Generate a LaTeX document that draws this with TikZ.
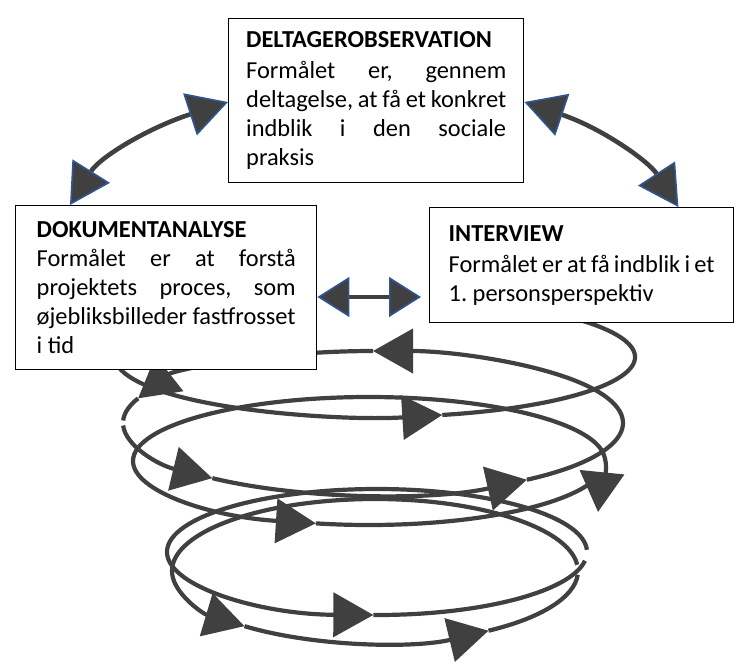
\documentclass[tikz,border=0pt]{standalone}
\usepackage{fontspec}
\setmainfont{Carlito}
\usetikzlibrary{arrows.meta}
\definecolor{spir}{HTML}{404040}
\definecolor{tipblue}{HTML}{2F5597}
\tolerance=10000
\hyphenpenalty=10000
\exhyphenpenalty=10000
\hfuzz=20pt

\begin{document}
\begin{tikzpicture}
		[x=0.5pt,y=-0.5pt,
		box/.style={draw,fill=white,line width=0.7pt,anchor=north west,align=justify,inner ysep=0pt,font=\fontsize{12.2}{14.5}\selectfont},
		helix/.style={draw=spir,line width=2.1pt},
		helixtip/.style={-{Triangle[length=20pt,width=22pt]}},
		boxlink/.style={draw=spir,line width=2.3pt,{Triangle[length=20pt,width=22pt,fill=spir,color=tipblue,line width=0.8pt]}-{Triangle[length=20pt,width=22pt,fill=spir,color=tipblue,line width=0.8pt]}},
		midlink/.style={draw=spir,line width=2.3pt,{Triangle[length=16pt,width=20pt,fill=spir,color=tipblue,line width=0.8pt]}-{Triangle[length=16pt,width=20pt,fill=spir,color=tipblue,line width=0.8pt]}}]
		\path[use as bounding box,fill=white] (0,0) rectangle (738,664);
		% helix, one ellipse per turn, tips at the arc ends
		\foreach \cx/\cy/\rx/\ry/\a/\b in {375/357/260/60/190/75, 373/423/250/72/178/130, 373/423/250/72/130/52, 373/423/250/72/52/-90, 373/423/250/72/-90/-160, 369/461/236/64/180/103, 377/552/210/63/358/91, 375/571/203/72/355/130, 375/571/203/72/130/56}
		\draw[helix,helixtip] ({\cx+\rx*cos(\a)},{\cy+\ry*sin(\a)}) arc[start angle=\a,end angle=\b,x radius=\rx,y radius=\ry];
		\foreach \cx/\cy/\rx/\ry/\a/\b in {375/357/260/60/75/-45, 373/423/250/72/-160/-178, 369/461/236/64/103/12, 377/552/210/63/91/8, 375/571/203/72/56/3}
		\draw[helix] ({\cx+\rx*cos(\a)},{\cy+\ry*sin(\a)}) arc[start angle=\a,end angle=\b,x radius=\rx,y radius=\ry];
		\draw[helix,helixtip] (133,461) arc[start angle=180,end angle=355,x radius=236,y radius=64] .. controls +(6,18) and +(2,-20) .. (598,512);
		
		\node[box,text width=130pt,inner xsep=8.75pt,minimum height=82pt] (obs) at (228,18) {\textbf{DELTAGEROBSERVATION}\\[1pt]Formålet~er,~gennem\linebreak deltagelse,~at~få~et~konkret\linebreak indblik~i~den~sociale\linebreak praksis};
		\node[box,text width=129.5pt,inner xsep=10.5pt,minimum height=82pt] (dok) at (15,205) {\textbf{DOKUMENTANALYSE}\\Formålet~er~at~forstå\linebreak projektets~proces,~som\linebreak øjebliksbilleder~fastfrosset\linebreak i tid};
		\node[box,text width=133pt,inner xsep=9.5pt,minimum height=57.5pt] (int) at (429,207) {\textbf{INTERVIEW}\\[1pt]Formålet er at få indblik i et\linebreak 1.~personsperspektiv};
		
		\draw[boxlink] ([xshift=27.5pt]dok.north west) .. controls +(30,-48) and +(-80,26) .. ([yshift=-42pt]obs.north west);
		\draw[boxlink] ([yshift=-42pt]obs.north east) .. controls +(77,26) and +(-30,-46) .. ([xshift=-28pt]int.north east);
		\draw[midlink,shorten >=4pt] ([yshift=-46pt]dok.north east) -- ([yshift=-45pt]int.north west);
	\end{tikzpicture}
\end{document}
